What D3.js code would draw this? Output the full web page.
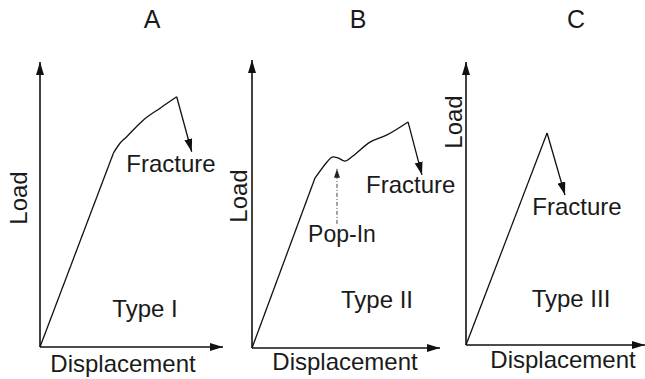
<!DOCTYPE html>
<html>
<head>
<meta charset="utf-8">
<script src="https://cdn.jsdelivr.net/npm/d3@7"></script>
<style>
  html, body { margin: 0; padding: 0; background: #fff; }
  svg { display: block; }
  text { font-family: "Liberation Sans", Arial, sans-serif; fill: #1a1a1a; }
</style>
</head>
<body>
<svg id="chart" width="645" height="379"></svg>
<script>
// Panel titles and type labels
const panelTitles = ["A", "B", "C"];
const typeLabels = ["Type I", "Type II", "Type III"];
const axisX = "Displacement";
const axisY = "Load";

// Load–displacement curves (relative units, 0–100 on each axis)
const curveA = [[0, 0], [40.1, 68.0], [43.7, 71.5], [47.4, 73.8], [56.4, 79.6], [65.6, 83.8], [74.7, 87.8]];
const curveB = [[0, 0], [33.5, 59.0], [39.9, 64.6], [42.6, 66.3], [45.7, 66.0], [49.5, 64.9], [53.7, 66.7], [62.8, 71.5], [71.8, 74.0], [83.0, 78.5]];
const curveC = [[0, 0], [45.3, 74.9]];

// Fracture drops: from peak load to arrow tip
const fractureA = [[74.7, 87.8], [82.9, 68.5]];
const fractureB = [[83.0, 78.5], [90.4, 60.1]];
const fractureC = [[45.3, 74.9], [55.3, 53.0]];

// Pop-in marker in panel B
const popIn = [[45.2, 43.1], [45.2, 62.2]];

const curves = [curveA, curveB, curveC];
const fractures = [fractureA, fractureB, fractureC];

// Panel frames in pixels: origin, end of x axis, top of y axis
const frames = [
  { ox: 40,  oy: 347, xEnd: 223, yTop: 62 },
  { ox: 252, oy: 348, xEnd: 440, yTop: 60 },
  { ox: 466, oy: 345, xEnd: 645, yTop: 62 }
];

// Label placements (pixels)
const titlePos = [[152, 28], [358, 28], [576, 28]];
const typePos = [[145, 317], [377, 308], [571, 307]];
const xLabelPos = [[123, 372], [345, 370], [563, 368]];
const yLabelPos = [[27, 198], [247, 196], [462, 122]];
const fracturePos = [[171, 172, "middle"], [366, 193, "start"], [577, 215, "middle"]];
const popInPos = [342, 242];

const svg = d3.select("#chart");
const defs = svg.append("defs");

defs.append("marker")
  .attr("id", "head")
  .attr("viewBox", "0 0 13 8")
  .attr("refX", 13).attr("refY", 4)
  .attr("markerWidth", 13).attr("markerHeight", 8)
  .attr("markerUnits", "userSpaceOnUse")
  .attr("orient", "auto")
  .append("path").attr("d", "M0,0L13,4L0,8Z").attr("fill", "#111");

defs.append("marker")
  .attr("id", "headSmall")
  .attr("viewBox", "0 0 9 6")
  .attr("refX", 9).attr("refY", 3)
  .attr("markerWidth", 9).attr("markerHeight", 6)
  .attr("markerUnits", "userSpaceOnUse")
  .attr("orient", "auto")
  .append("path").attr("d", "M0,0L9,3L0,6Z").attr("fill", "#222");

const line = (x, y) => d3.line().x(d => x(d[0])).y(d => y(d[1]));
const smooth = (x, y) => d3.line().x(d => x(d[0])).y(d => y(d[1])).curve(d3.curveCatmullRom.alpha(0.5));

frames.forEach((f, i) => {
  const x = d3.scaleLinear().domain([0, 100]).range([f.ox, f.xEnd]);
  const y = d3.scaleLinear().domain([0, 100]).range([f.oy, f.yTop]);
  const g = svg.append("g");

  // axes with arrowheads
  g.append("line")
    .attr("x1", x(0)).attr("y1", y(0)).attr("x2", x(0)).attr("y2", y(100))
    .attr("stroke", "#111").attr("stroke-width", 1.6)
    .attr("marker-end", "url(#head)");
  g.append("line")
    .attr("x1", x(0)).attr("y1", y(0)).attr("x2", x(100)).attr("y2", y(0))
    .attr("stroke", "#111").attr("stroke-width", 1.6)
    .attr("marker-end", "url(#head)");

  // load-displacement curve: straight elastic rise, then a smooth plastic part
  const pts = curves[i];
  g.append("path")
    .attr("d", line(x, y)(pts.slice(0, 2)))
    .attr("fill", "none").attr("stroke", "#111").attr("stroke-width", 1.3);
  if (pts.length > 2) {
    g.append("path")
      .attr("d", smooth(x, y)(pts.slice(1)))
      .attr("fill", "none").attr("stroke", "#111")
      .attr("stroke-width", 1.3).attr("stroke-linejoin", "round");
  }

  // fracture drop
  g.append("path")
    .attr("d", line(x, y)(fractures[i]))
    .attr("fill", "none").attr("stroke", "#111").attr("stroke-width", 1.3)
    .attr("marker-end", "url(#head)");

  if (i === 1) {
    g.append("path")
      .attr("d", line(x, y)(popIn))
      .attr("fill", "none").attr("stroke", "#333").attr("stroke-width", 0.9)
      .attr("stroke-dasharray", "4,2,1,2")
      .attr("marker-end", "url(#headSmall)");
    g.append("text")
      .attr("x", popInPos[0]).attr("y", popInPos[1])
      .attr("text-anchor", "middle").attr("font-size", 23)
      .text("Pop-In");
  }

  // text
  g.append("text")
    .attr("x", titlePos[i][0]).attr("y", titlePos[i][1])
    .attr("text-anchor", "middle").attr("font-size", 25)
    .text(panelTitles[i]);
  g.append("text")
    .attr("x", typePos[i][0]).attr("y", typePos[i][1])
    .attr("text-anchor", "middle").attr("font-size", 24)
    .text(typeLabels[i]);
  g.append("text")
    .attr("x", xLabelPos[i][0]).attr("y", xLabelPos[i][1])
    .attr("text-anchor", "middle").attr("font-size", 24)
    .text(axisX);
  g.append("text")
    .attr("transform", `translate(${yLabelPos[i][0]},${yLabelPos[i][1]}) rotate(-90)`)
    .attr("text-anchor", "middle").attr("font-size", 24)
    .text(axisY);
  g.append("text")
    .attr("x", fracturePos[i][0]).attr("y", fracturePos[i][1])
    .attr("text-anchor", fracturePos[i][2]).attr("font-size", 24)
    .text("Fracture");
});
</script>
</body>
</html>
